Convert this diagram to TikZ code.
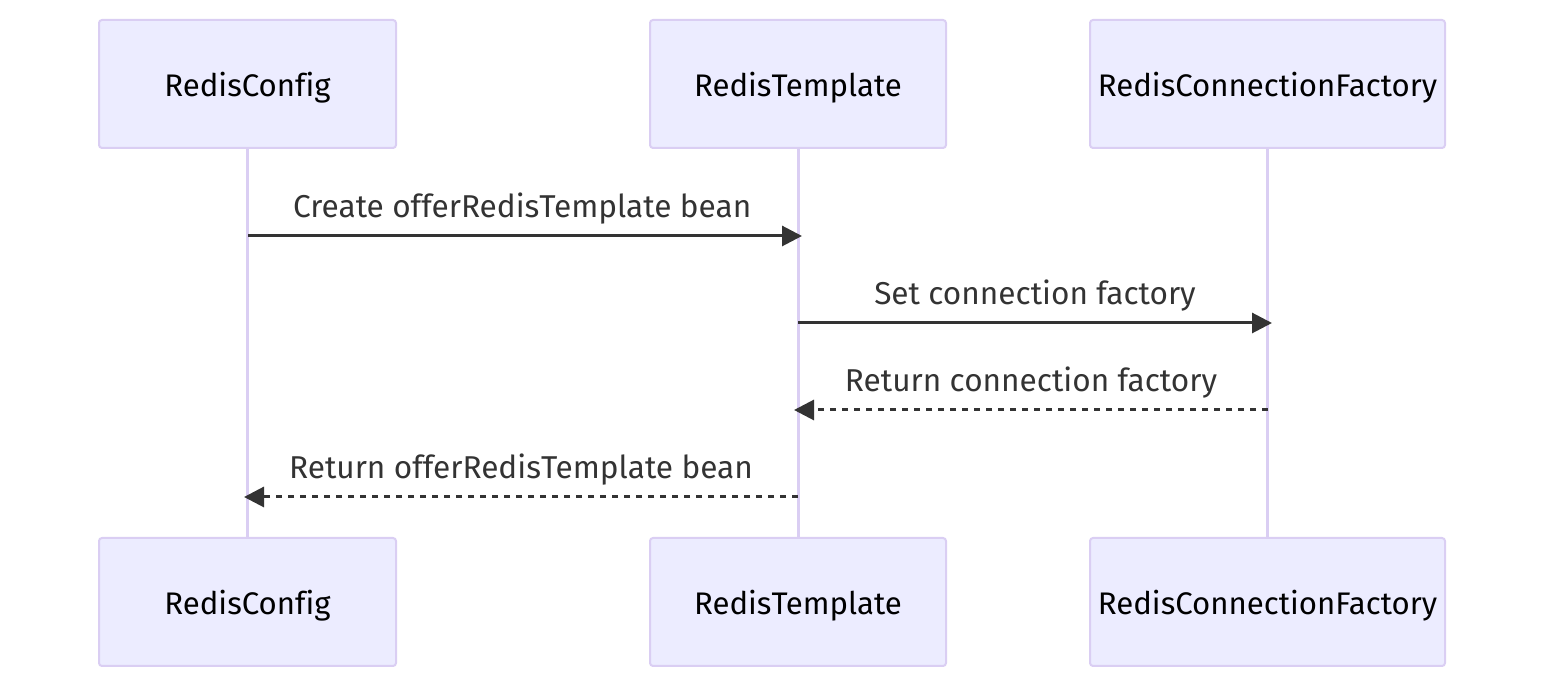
\documentclass[tikz,border=0pt]{standalone}
\usepackage{fontspec}
\setmainfont{Fira Sans}[Ligatures=NoCommon]
\usetikzlibrary{arrows.meta}

\definecolor{actorfill}{HTML}{ECECFF}
\definecolor{actorline}{HTML}{DACEF3}
\definecolor{msgline}{HTML}{333333}

\begin{document}
\begin{tikzpicture}[x=0.5pt,y=-0.5pt,
    actor/.style={draw=actorline, fill=actorfill, line width=1pt, rounded corners=1.5pt,
      minimum height=64pt, inner sep=0pt, text depth=0pt, font=\fontsize{15.6}{18}\selectfont, text=black},
    life/.style={draw=actorline, line width=1.5pt},
    msg/.style={draw=msgline, line width=1.5pt, -{Triangle[length=10pt,width=10pt]}},
    reply/.style={msg, dash pattern=on 3pt off 3pt},
    msglabel/.style={anchor=base, yshift=9pt, font=\fontsize{15.8}{18}\selectfont, text=msgline}]
      \useasboundingbox (0,0) rectangle (1560,694);
      % actors on top
      \node [actor, minimum width=148.5pt] (cfg) at (247.5,84) {RedisConfig};
      \node [actor, minimum width=148pt] (tpl) at (798,84) {RedisTemplate};
      \node [actor, minimum width=177.5pt] (fac) at (1267.5,84) {RedisConnectionFactory};
      % actors at the bottom
      \node [actor, minimum width=148.5pt] (cfgb) at (247.5,602) {RedisConfig};
      \node [actor, minimum width=148pt] (tplb) at (798,602) {RedisTemplate};
      \node [actor, minimum width=177.5pt] (facb) at (1267.5,602) {RedisConnectionFactory};
      % lifelines
      \draw [life] (cfg) -- (cfgb);
      \draw [life] (tpl) -- (tplb);
      \draw [life] (fac) -- (facb);
      % message ends
      \coordinate (m1s) at (248,236);
      \coordinate (m1e) at (802,236);
      \coordinate (m2s) at (798,323);
      \coordinate (m2e) at (1272,323);
      \coordinate (m3s) at (1268,410);
      \coordinate (m3e) at (794,410);
      \coordinate (m4s) at (798,497);
      \coordinate (m4e) at (244,497);
      % messages
      \draw [msg] (m1s) -- (m1e) node [msglabel, pos=0.495] {Create offerRedisTemplate bean};
      \draw [msg] (m2s) -- (m2e) node [msglabel, midway] {Set connection factory};
      \draw [reply] (m3s) -- (m3e) node [msglabel, midway] {Return connection factory};
      \draw [reply] (m4s) -- (m4e) node [msglabel, midway] {Return offerRedisTemplate bean};
\end{tikzpicture}
\end{document}
